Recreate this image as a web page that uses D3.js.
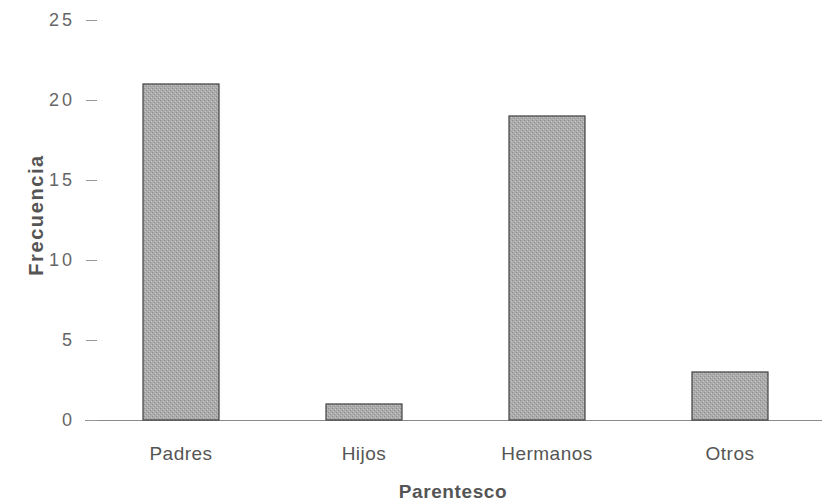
<!DOCTYPE html>
<html>
<head>
<meta charset="utf-8">
<script src="https://cdn.jsdelivr.net/npm/d3@7"></script>
<style>
  html, body { margin: 0; padding: 0; background: #fff; }
  svg { display: block; }
</style>
</head>
<body>
<svg id="chart" width="828" height="502"></svg>
<script>
const categories = ["Padres", "Hijos", "Hermanos", "Otros"];
const values = [21, 1, 19, 3];
const yTicks = [0, 5, 10, 15, 20, 25];
const xTitle = "Parentesco";
const yTitle = "Frecuencia";

const svg = d3.select("#chart");
const font = "'Liberation Sans', Arial, Helvetica, sans-serif";

const x = d3.scaleBand()
  .domain(categories)
  .range([89.5, 821.5])
  .paddingInner(0.585)
  .paddingOuter(0.2925);

const y = d3.scaleLinear().domain([0, 25]).range([420, 20]);

// texture pattern for bars
const defs = svg.append("defs");
const pat = defs.append("pattern")
  .attr("id", "tex").attr("width", 4).attr("height", 4)
  .attr("patternUnits", "userSpaceOnUse");
pat.append("rect").attr("width", 4).attr("height", 4).attr("fill", "#ababab");
pat.append("rect").attr("x", 0).attr("y", 0).attr("width", 1).attr("height", 1).attr("fill", "#8e8e8e");
pat.append("rect").attr("x", 2).attr("y", 2).attr("width", 1).attr("height", 1).attr("fill", "#939393");
pat.append("rect").attr("x", 3).attr("y", 1).attr("width", 1).attr("height", 1).attr("fill", "#c6c6c6");
pat.append("rect").attr("x", 1).attr("y", 3).attr("width", 1).attr("height", 1).attr("fill", "#c2c2c2");

// baseline
svg.append("line")
  .attr("x1", 85).attr("x2", 822)
  .attr("y1", y(0) + 0.5).attr("y2", y(0) + 0.5)
  .attr("stroke", "#8a8a8a").attr("stroke-width", 1);

// y axis (ticks + labels, no domain line)
const yAxis = d3.axisLeft(y).tickValues(yTicks).tickSize(11).tickPadding(0).tickFormat(d3.format("d"));
const gy = svg.append("g").attr("transform", "translate(97,0)").call(yAxis);
gy.select(".domain").remove();
gy.selectAll(".tick line").attr("stroke", "#999").attr("stroke-width", 1);
gy.selectAll(".tick text")
  .attr("x", -22)
  .attr("fill", "#666")
  .style("font-family", font)
  .style("font-size", "18px")
  .style("letter-spacing", "3px");

// bars
svg.append("g").selectAll("rect")
  .data(categories)
  .join("rect")
  .attr("x", d => x(d))
  .attr("y", (d, i) => y(values[i]))
  .attr("width", x.bandwidth())
  .attr("height", (d, i) => y(0) - y(values[i]))
  .attr("fill", "url(#tex)")
  .attr("stroke", "#4a4a4a")
  .attr("stroke-width", 1.3);

// x axis labels
const xAxis = d3.axisBottom(x).tickSize(0).tickPadding(0);
const gx = svg.append("g").attr("transform", "translate(0,443)").call(xAxis);
gx.select(".domain").remove();
gx.selectAll(".tick text")
  .attr("dy", "0.9em")
  .attr("fill", "#555")
  .style("font-family", font)
  .style("font-size", "19px")
  .style("letter-spacing", "0.5px");

// titles
svg.append("text")
  .attr("x", 453).attr("y", 498)
  .attr("text-anchor", "middle")
  .attr("fill", "#555")
  .style("font-family", font)
  .style("font-size", "19px")
  .style("font-weight", "bold")
  .style("letter-spacing", "0.6px")
  .text(xTitle);

svg.append("text")
  .attr("transform", "translate(43,215) rotate(-90)")
  .attr("text-anchor", "middle")
  .attr("fill", "#555")
  .style("font-family", font)
  .style("font-size", "20px")
  .style("font-weight", "bold")
  .style("letter-spacing", "1.6px")
  .text(yTitle);
</script>
</body>
</html>
